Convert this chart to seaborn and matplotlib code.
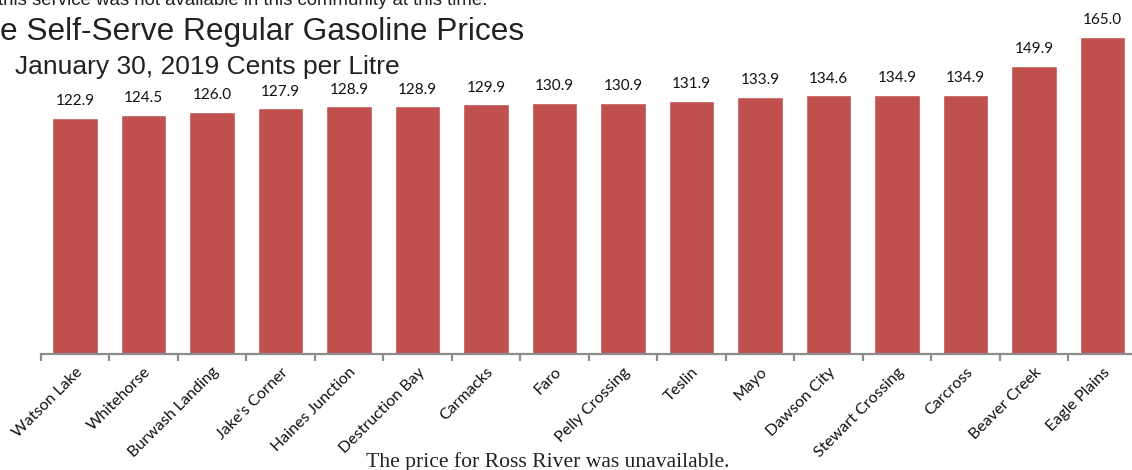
import matplotlib
matplotlib.use("Agg")
import matplotlib.pyplot as plt
import seaborn as sns
import pandas as pd
import numpy as np

communities = ["Watson Lake", "Whitehorse", "Burwash Landing", "Jake's Corner",
               "Haines Junction", "Destruction Bay", "Carmacks", "Faro",
               "Pelly Crossing", "Teslin", "Mayo", "Dawson City",
               "Stewart Crossing", "Carcross", "Beaver Creek", "Eagle Plains"]
prices = [122.9, 124.5, 126.0, 127.9, 128.9, 128.9, 129.9, 130.9,
          130.9, 131.9, 133.9, 134.6, 134.9, 134.9, 149.9, 165.0]

title_text = "e Self-Serve Regular Gasoline Prices"
subtitle_text = "January 30, 2019 Cents per Litre"
top_note = "this service was not available in this community at this time."
bottom_note = "The price for Ross River was unavailable."

df = pd.DataFrame({"community": communities, "price": prices})

sns.set_theme(style="white")
plt.rcParams["font.family"] = ["Lato", "DejaVu Sans"]

W, H = 1132, 470
fig = plt.figure(figsize=(W / 100, H / 100), dpi=100)
left_px, base_px, cat_w = 40.75, 354, 68.5
ymax = 180
px_per_unit = 317 / 165.0
ax_h = ymax * px_per_unit
ax = fig.add_axes([left_px / W, (H - base_px) / H, 16 * cat_w / W, ax_h / H])

sns.barplot(data=df, x="community", y="price", color="#C0504D",
            width=0.67, saturation=1, ax=ax)
ax.set_ylim(0, ymax)
ax.set_xlim(-0.5, len(communities) - 0.5)
ax.set_xlabel("")
ax.set_ylabel("")
ax.set_yticks([])
for s in ["top", "right", "left"]:
    ax.spines[s].set_visible(False)
ax.spines["bottom"].set_color("#8C8C8C")
ax.spines["bottom"].set_linewidth(1.6)

ax.set_xticks(np.arange(len(communities)))
ax.set_xticklabels(communities, rotation=45, ha="right", va="top",
                   rotation_mode="anchor", fontsize=11.5, color="#111111")
ax.tick_params(axis="x", which="major", length=0, pad=8)
ax.set_xticks(np.arange(len(communities) + 1) - 0.5, minor=True)
ax.tick_params(axis="x", which="minor", length=5, width=1.6, color="#8C8C8C",
               bottom=True)

for i, v in enumerate(prices):
    ax.annotate(f"{v:.1f}", (i, v), xytext=(0, 7), textcoords="offset points",
                ha="center", va="bottom", fontsize=11, color="#111111")

fig.text(-2 / W, 1 - 5 / H, top_note, ha="left", va="baseline",
         fontsize=13.4, family=["Liberation Sans"], color="#222222")
fig.text(0.0, 1 - 32 / H, title_text, ha="left", va="center",
         fontsize=22.8, family=["Liberation Sans"], color="#222222")
fig.text(15 / W, 1 - 67 / H, subtitle_text, ha="left", va="center",
         fontsize=19.0, family=["Liberation Sans"], color="#222222")
fig.text(366 / W, 1 - 467 / H, bottom_note, ha="left", va="baseline",
         fontsize=15.6, family=["Liberation Serif"], color="#222222")

fig.savefig("out.png", dpi=100)
